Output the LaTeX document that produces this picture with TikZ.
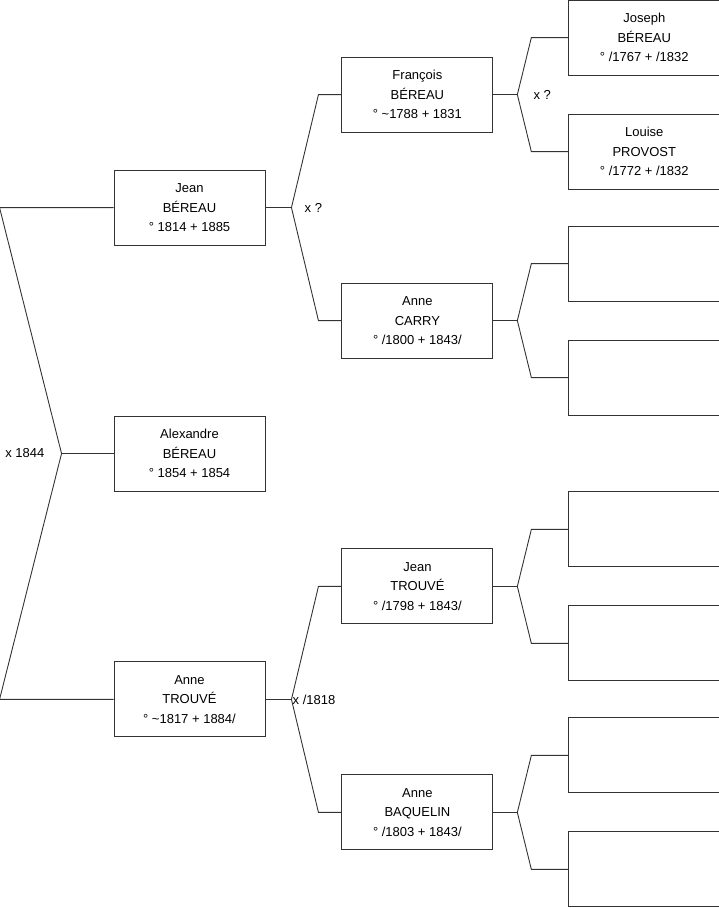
\documentclass[tikz,border=0pt]{standalone}
\usepackage{fontspec}
\setmainfont{Liberation Sans}
\usetikzlibrary{positioning}

\begin{document}
\begin{tikzpicture}[x=1pt, y=1pt]

\tikzset{
  person/.style={
    rectangle, draw=black!80, line width=0.9pt, fill=white,
    align=center, minimum width=151pt, minimum height=75pt,
    inner sep=2pt, font=\fontsize{13}{19.5}\selectfont
  },
  link/.style={draw=black!80, line width=0.9pt},
  union/.style={inner sep=0pt, anchor=west, font=\fontsize{13}{15}\selectfont}
}

\useasboundingbox (0,0) rectangle (719,-908);

% ==========================
% Generation 1
% ==========================
\node[person] (alex) at (189.5,-453.5) {Alexandre\\BÉREAU\\° 1854 + 1854};
\node[person, above=170pt of alex] (jeanB) {Jean\\BÉREAU\\° 1814 + 1885};
\node[person, below=170pt of alex] (anneT) {Anne\\TROUVÉ\\° \textasciitilde1817 + 1884/};

% ==========================
% Generation 2
% ==========================
\node[person, right=76pt of jeanB, yshift=113pt] (francois) {François\\BÉREAU\\° \textasciitilde1788 + 1831};
\node[person, right=76pt of jeanB, yshift=-113pt] (anneC) {Anne\\CARRY\\° /1800 + 1843/};
\node[person, right=76pt of anneT, yshift=113pt] (jeanT) {Jean\\TROUVÉ\\° /1798 + 1843/};
\node[person, right=76pt of anneT, yshift=-113pt] (anneBa) {Anne\\BAQUELIN\\° /1803 + 1843/};

% ==========================
% Generation 3
% ==========================
\node[person, right=75pt of francois, yshift=57pt] (joseph) {Joseph\\BÉREAU\\° /1767 + /1832};
\node[person, right=75pt of francois, yshift=-57pt] (louise) {Louise\\PROVOST\\° /1772 + /1832};
\node[person, right=75pt of anneC, yshift=57pt] (e1) {};
\node[person, right=75pt of anneC, yshift=-57pt] (e2) {};
\node[person, right=75pt of jeanT, yshift=57pt] (e3) {};
\node[person, right=75pt of jeanT, yshift=-57pt] (e4) {};
\node[person, right=75pt of anneBa, yshift=57pt] (e5) {};
\node[person, right=75pt of anneBa, yshift=-57pt] (e6) {};

% ==========================
% Liens (parents)
% ==========================
\draw[link] (jeanB.west) -- ([xshift=-114pt]jeanB.west) -- ([xshift=-52pt]alex.west) coordinate (m0)
  -- ([xshift=-114pt]anneT.west) -- (anneT.west);
\draw[link] (m0) -- (alex.west);

\draw[link] (jeanB.east) -- ++(26,0) coordinate (m1);
\draw[link] (francois.west) -- ([xshift=-23pt]francois.west) -- (m1) -- ([xshift=-23pt]anneC.west) -- (anneC.west);

\draw[link] (anneT.east) -- ++(26,0) coordinate (m2);
\draw[link] (jeanT.west) -- ([xshift=-23pt]jeanT.west) -- (m2) -- ([xshift=-23pt]anneBa.west) -- (anneBa.west);

\foreach \p/\a/\b in {francois/joseph/louise, anneC/e1/e2, jeanT/e3/e4, anneBa/e5/e6} {
  \draw[link] (\p.east) -- ++(24,0) coordinate (m\p);
  \draw[link] (\a.west) -- ([xshift=-37pt]\a.west) -- (m\p) -- ([xshift=-37pt]\b.west) -- (\b.west);
}

% Mariages
\node[union, anchor=east] at ([xshift=-17pt]m0) {x 1844};
\node[union] at ([xshift=13pt]m1) {x ?};
\node[union] at ([xshift=1pt]m2) {x /1818};
\node[union] at ([xshift=16pt]mfrancois) {x ?};

\end{tikzpicture}
\end{document}
